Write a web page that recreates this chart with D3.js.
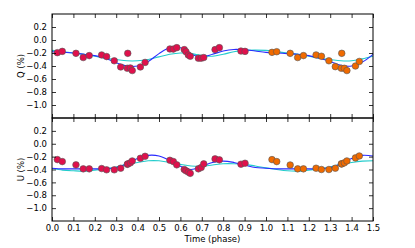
<!DOCTYPE html>
<html>
<head>
<meta charset="utf-8">
<script src="https://cdn.jsdelivr.net/npm/d3@7"></script>
<style>
  body { margin: 0; background: #fff; }
  svg text { font-family: "DejaVu Sans", sans-serif; font-size: 8.5px; fill: #000; }
</style>
</head>
<body>
<svg id="chart" width="415" height="248"></svg>
<script>
// observed points, first cycle (red)
var phaseRed = [0.025, 0.048, 0.112, 0.146, 0.174, 0.232, 0.255, 0.291, 0.321, 0.352, 0.354, 0.366, 0.375, 0.413, 0.435,
                0.551, 0.567, 0.583, 0.618, 0.626, 0.637, 0.646, 0.684, 0.697, 0.709, 0.762, 0.782, 0.883, 0.902];
var qRed = [-0.195, -0.175, -0.205, -0.27, -0.24, -0.23, -0.255, -0.32, -0.415, -0.435, -0.205, -0.43, -0.47, -0.415, -0.345,
            -0.138, -0.14, -0.118, -0.148, -0.18, -0.23, -0.25, -0.28, -0.28, -0.27, -0.148, -0.118, -0.17, -0.175];
var uRed = [-0.246, -0.277, -0.328, -0.39, -0.39, -0.385, -0.405, -0.405, -0.38, -0.32, -0.313, -0.297, -0.267, -0.226, -0.195,
            -0.257, -0.277, -0.328, -0.40, -0.42, -0.44, -0.46, -0.39, -0.37, -0.313, -0.235, -0.25, -0.318, -0.303];

// observed points, second cycle (orange)
var phaseOrange = [1.028, 1.050, 1.113, 1.148, 1.175, 1.234, 1.259, 1.294, 1.324, 1.352, 1.354, 1.366, 1.378, 1.418, 1.436];
var qOrange = [-0.19, -0.18, -0.205, -0.27, -0.24, -0.23, -0.25, -0.32, -0.41, -0.435, -0.205, -0.435, -0.47, -0.40, -0.33];
var uOrange = [-0.246, -0.277, -0.33, -0.39, -0.39, -0.38, -0.40, -0.40, -0.38, -0.313, -0.313, -0.297, -0.267, -0.22, -0.19];

// model curves
var phaseModel = [0, 0.05, 0.1, 0.15, 0.2, 0.25, 0.3, 0.35, 0.4, 0.45, 0.5, 0.55, 0.6, 0.65, 0.7, 0.75, 0.8, 0.85, 0.9, 0.95,
                  1.0, 1.05, 1.1, 1.15, 1.2, 1.25, 1.3, 1.35, 1.4, 1.45, 1.5];
var qBlue = [-0.18, -0.19, -0.20, -0.22, -0.24, -0.28, -0.35, -0.40, -0.40, -0.33, -0.21, -0.12, -0.12, -0.22, -0.26, -0.22,
             -0.17, -0.145, -0.15, -0.17, -0.19, -0.20, -0.21, -0.22, -0.24, -0.28, -0.33, -0.39, -0.40, -0.34, -0.22];
var qCyan = [-0.16, -0.18, -0.20, -0.22, -0.25, -0.28, -0.30, -0.32, -0.32, -0.30, -0.26, -0.22, -0.20, -0.21, -0.24, -0.25,
             -0.22, -0.18, -0.16, -0.155, -0.16, -0.18, -0.20, -0.22, -0.25, -0.28, -0.30, -0.32, -0.32, -0.29, -0.25];
var uBlue = [-0.38, -0.39, -0.39, -0.39, -0.39, -0.39, -0.37, -0.31, -0.23, -0.18, -0.19, -0.26, -0.35, -0.40, -0.35, -0.29,
             -0.27, -0.29, -0.33, -0.37, -0.38, -0.39, -0.39, -0.39, -0.39, -0.39, -0.37, -0.31, -0.23, -0.18, -0.19];
var uCyan = [-0.385, -0.41, -0.42, -0.425, -0.41, -0.39, -0.36, -0.32, -0.29, -0.265, -0.265, -0.29, -0.32, -0.345, -0.35, -0.33,
             -0.31, -0.31, -0.32, -0.345, -0.375, -0.40, -0.42, -0.425, -0.41, -0.39, -0.36, -0.32, -0.29, -0.27, -0.265];

var xTicks = d3.range(0, 16).map(function (i) { return i / 10; });
var yTicks = [0.2, 0.0, -0.2, -0.4, -0.6, -0.8, -1.0];

var svg = d3.select("#chart");
var left = 52, right = 373;

var x = d3.scaleLinear().domain([0, 1.5]).range([left, right]);

function fmt(d) { return d3.format(".1f")(d).replace("-", "\u2212"); }

function panel(top, bottom, label, vals, valsOrange, blue, cyan, showX) {
    var y = d3.scaleLinear().domain([-1.2, 0.4]).range([bottom, top]);
    var g = svg.append("g");

    var line = d3.line()
        .x(function (d, i) { return x(phaseModel[i]); })
        .y(function (d) { return y(d); })
        .curve(d3.curveCatmullRom);

    g.append("path").attr("d", line(cyan))
        .attr("fill", "none").attr("stroke", "#22cccc").attr("stroke-width", 1.1);
    g.append("path").attr("d", line(blue))
        .attr("fill", "none").attr("stroke", "#2a2aff").attr("stroke-width", 1.1);

    g.selectAll("circle.red").data(vals).enter().append("circle")
        .attr("cx", function (d, i) { return x(phaseRed[i]); })
        .attr("cy", function (d) { return y(d); })
        .attr("r", 3.3)
        .attr("fill", "#e0104c").attr("stroke", "#555").attr("stroke-width", 0.6);

    g.selectAll("circle.orange").data(valsOrange).enter().append("circle")
        .attr("cx", function (d, i) { return x(phaseOrange[i]); })
        .attr("cy", function (d) { return y(d); })
        .attr("r", 3.3)
        .attr("fill", "#f06a00").attr("stroke", "#555").attr("stroke-width", 0.6);

    // ticks inside on all four sides
    g.append("g").attr("transform", "translate(0," + bottom + ")")
        .call(d3.axisBottom(x).tickValues(xTicks).tickSize(-4).tickSizeOuter(0).tickPadding(4)
            .tickFormat(showX ? d3.format(".1f") : ""));
    g.append("g").attr("transform", "translate(0," + top + ")")
        .call(d3.axisTop(x).tickValues(xTicks).tickSize(-4).tickSizeOuter(0).tickFormat(""));
    g.append("g").attr("transform", "translate(" + left + ",0)")
        .call(d3.axisLeft(y).tickValues(yTicks).tickSize(-4).tickSizeOuter(0).tickPadding(5).tickFormat(fmt));
    g.append("g").attr("transform", "translate(" + right + ",0)")
        .call(d3.axisRight(y).tickValues(yTicks).tickSize(-4).tickSizeOuter(0).tickFormat(""));

    g.selectAll(".domain").remove();
    g.selectAll(".tick line").attr("stroke", "#000").attr("stroke-width", 0.8);
    g.selectAll(".tick text").attr("font-family", "DejaVu Sans").attr("font-size", "8.5px");

    g.append("rect").attr("x", left).attr("y", top)
        .attr("width", right - left).attr("height", bottom - top)
        .attr("fill", "none").attr("stroke", "#000").attr("stroke-width", 1);

    g.append("text")
        .attr("transform", "translate(21," + ((top + bottom) / 2) + ") rotate(-90)")
        .attr("text-anchor", "middle").attr("dy", "0.35em")
        .text(label);
}

panel(14, 118, "Q (%)", qRed, qOrange, qBlue, qCyan, false);
panel(118, 221, "U (%)", uRed, uOrange, uBlue, uCyan, true);

svg.append("text").attr("x", (left + right) / 2).attr("y", 242)
    .attr("text-anchor", "middle").text("Time (phase)");
</script>
</body>
</html>
